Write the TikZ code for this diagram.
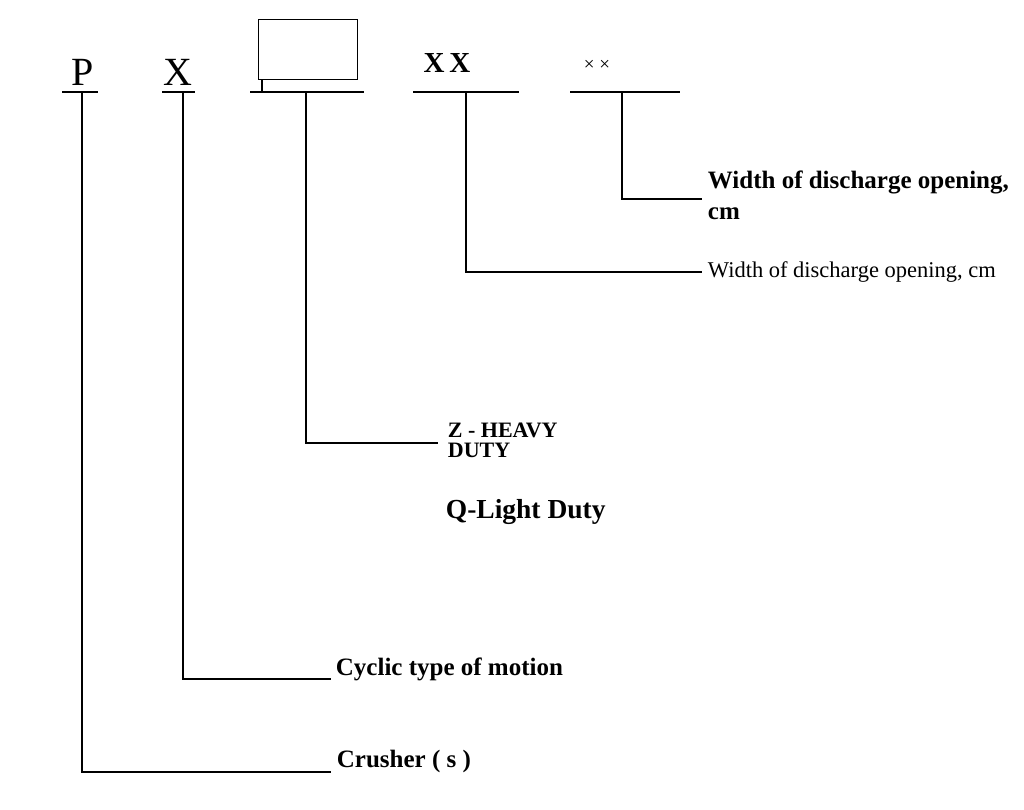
\documentclass[tikz,border=0pt]{standalone}
\usepackage{fontspec}
\setmainfont{Liberation Serif}
\usetikzlibrary{calc,positioning}

\begin{document}
\begin{tikzpicture}[
    x=1pt, y=-1pt,
    line width=1.8pt
  ]

  % Styles for the code letters, the bars under them and the labels
  \tikzset{
    code/.style={inner sep=0pt, anchor=base, font=\fontsize{40}{40}\selectfont},
    bar/.style={line width=1.9pt},
    lbl/.style={inner sep=0pt, anchor=base west, align=left, font=\fontsize{25}{32}\selectfont\bfseries}
  }

  \useasboundingbox (0,0) rectangle (1024,810);

  % Code letters
  \node (p)     [code] at (83,86) {P};
  \node (x)     [code] at (178,86) {X};
  \node (blank) [draw, line width=1.3pt, anchor=north west, minimum width=99pt, minimum height=60pt] at (258,19) {};
  \node (xx)    [code, font=\fontsize{29}{29}\selectfont\bfseries] at (447,73) {X\,X};
  \node (cross) [code, font=\fontsize{19}{19}\selectfont] at (597,71) {× ×};

  % Bars under the letters
  \coordinate (pbar)     at (82,92);
  \coordinate (xbar)     at (183,92);
  \coordinate (blankbar) at (306,92);
  \coordinate (xxbar)    at (466,92);
  \coordinate (crossbar) at (622,92);
  \draw[bar] (62,92) -- (98,92);
  \draw[bar] (162,92) -- (195,92);
  \draw[bar] (250,92) -- (364,92);
  \draw[bar] (413,92) -- (519,92);
  \draw[bar] (570,92) -- (680,92);
  \draw[line width=1.3pt] (blank.south west) ++(4,0) -- ++(0,13);

  % Labels (base = last line)
  \node (width)   [lbl] at (707,220) {Width of discharge opening,\\cm};
  \node (widthcm) [lbl, font=\fontsize{22.5}{26}\selectfont] at (707,277) {Width of discharge opening, cm};
  \node (heavy)   [lbl, font=\fontsize{22}{20}\selectfont\bfseries] at (447,457) {Z - HEAVY\\DUTY};
  \node (light)   [lbl, font=\fontsize{27.5}{30}\selectfont\bfseries] at (445,518) {Q-Light Duty};
  \node (cyclic)  [lbl] at (335,675) {Cyclic type of motion};
  \node (crusher) [lbl] at (336,767) {Crusher ( s )};

  % Leaders from the bars to the labels
  \draw (crossbar) |- ($(width.base west)+(-5,-21)$);
  \draw (xxbar)    |- ($(widthcm.base west)+(-5,-5)$);
  \draw (blankbar) |- ($(heavy.base west)+(-9,-14)$);
  \draw (xbar)     |- ($(cyclic.base west)+(-4,4)$);
  \draw (pbar)     |- ($(crusher.base west)+(-5,5)$);

\end{tikzpicture}
\end{document}
